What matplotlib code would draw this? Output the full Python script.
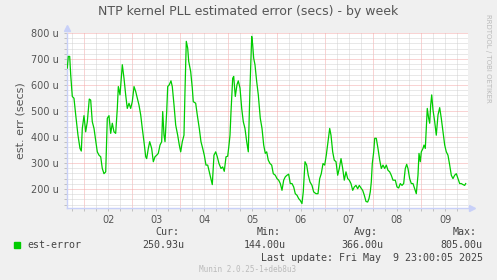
import matplotlib
matplotlib.use("Agg")
import matplotlib.pyplot as plt
from matplotlib.ticker import MultipleLocator, FuncFormatter
from matplotlib.patches import Rectangle

# time in days of May, estimated error in microseconds
days = [1.653, 1.674, 1.703, 1.724, 1.757, 1.792, 1.828, 1.875, 1.917, 1.944,
        1.965, 2.000, 2.035, 2.069, 2.110, 2.139, 2.172, 2.208, 2.276, 2.312,
        2.347, 2.380, 2.415, 2.451, 2.484, 2.519, 2.555, 2.588, 2.623, 2.658,
        2.692, 2.713, 2.748, 2.796, 2.831, 2.866, 2.899, 2.935, 2.970, 3.003,
        3.039, 3.074, 3.107, 3.142, 3.178, 3.211, 3.246, 3.282, 3.302, 3.336,
        3.365, 3.406, 3.440, 3.475, 3.510, 3.543, 3.579, 3.614, 3.635, 3.662,
        3.683, 3.718, 3.739, 3.772, 3.807, 3.834, 3.870, 3.905, 3.946, 3.980,
        4.009, 4.042, 4.077, 4.098, 4.125, 4.154, 4.175, 4.216, 4.250, 4.270,
        4.320, 4.353, 4.395, 4.430, 4.466, 4.499, 4.534, 4.570, 4.603, 4.638,
        4.665, 4.700, 4.736, 4.769, 4.804, 4.846, 4.881, 4.914, 4.950, 4.985,
        5.012, 5.033, 5.054, 5.089, 5.110, 5.143, 5.178, 5.205, 5.241, 5.276,
        5.309, 5.344, 5.380, 5.413, 5.448, 5.484, 5.504, 5.525, 5.552, 5.587,
        5.621, 5.662, 5.698, 5.733, 5.766, 5.795, 5.828, 5.864, 5.899, 5.932,
        5.974, 6.009, 6.044, 6.078, 6.113, 6.148, 6.182, 6.217, 6.252, 6.285,
        6.321, 6.356, 6.389, 6.425, 6.460, 6.493, 6.528, 6.555, 6.591, 6.626,
        6.659, 6.695, 6.736, 6.771, 6.819, 6.861, 6.896, 6.929, 6.965, 7.000,
        7.033, 7.069, 7.104, 7.131, 7.166, 7.199, 7.235, 7.270, 7.303, 7.339,
        7.374, 7.407, 7.442, 7.478, 7.511, 7.546, 7.582, 7.615, 7.650, 7.685,
        7.719, 7.754, 7.789, 7.823, 7.858, 7.893, 7.920, 7.947, 7.968, 7.989,
        8.018, 8.039, 8.072, 8.107, 8.143, 8.176, 8.211, 8.246, 8.280, 8.315,
        8.350, 8.383, 8.419, 8.467, 8.502, 8.537, 8.570, 8.606, 8.641, 8.674,
        8.703, 8.730, 8.765, 8.799, 8.834, 8.869, 8.903, 8.938, 8.959, 8.986,
        9.007, 9.042, 9.063, 9.090, 9.111, 9.131, 9.160, 9.181, 9.202, 9.223,
        9.250, 9.285, 9.318, 9.354, 9.389, 9.422, 9.457, 9.493, 9.526, 9.561,
        9.597, 9.630, 9.665, 9.700, 9.734, 9.769, 9.804, 9.837, 9.873, 9.908,
        9.929]
err_us = [665, 710, 710, 639, 556, 549, 485, 407, 356, 346,
          433, 482, 420, 459, 546, 542, 459, 433, 343, 330,
          324, 279, 259, 266, 472, 482, 414, 453, 420, 414,
          510, 594, 562, 678, 626, 562, 510, 530, 510, 536,
          594, 575, 549, 523, 485, 433, 382, 324, 317, 356,
          382, 356, 305, 324, 330, 337, 369, 382, 498, 407,
          382, 498, 594, 601, 616, 594, 523, 446, 407, 369,
          343, 382, 407, 575, 768, 742, 691, 652, 588, 536,
          530, 485, 433, 382, 356, 330, 292, 292, 266, 240,
          217, 330, 343, 324, 298, 279, 285, 268, 324, 326,
          369, 407, 498, 626, 633, 556, 601, 616, 588, 510,
          459, 433, 382, 343, 588, 787, 755, 703, 678, 614,
          562, 472, 433, 369, 337, 343, 311, 298, 292, 259,
          253, 240, 234, 221, 195, 234, 247, 253, 257, 221,
          221, 208, 182, 176, 163, 156, 144, 189, 305, 292,
          253, 227, 214, 189, 182, 182, 240, 259, 298, 292,
          330, 382, 433, 407, 343, 311, 305, 253, 279, 317,
          279, 234, 266, 240, 234, 221, 195, 208, 214, 201,
          214, 204, 195, 176, 152, 150, 163, 189, 227, 298,
          343, 395, 395, 356, 311, 279, 292, 279, 292, 272,
          266, 253, 234, 234, 208, 204, 221, 214, 221, 279,
          295, 279, 240, 221, 221, 201, 182, 253, 337, 305,
          343, 356, 369, 356, 433, 510, 472, 453, 523, 562,
          504, 459, 407, 485, 513, 472, 420, 369, 343, 330,
          292, 253, 240, 253, 259, 240, 221, 221, 217, 214,
          221]

legend_name = "est-error"
stat_names = ["Cur:", "Min:", "Avg:", "Max:"]
stat_values = ["250.93u", "144.00u", "366.00u", "805.00u"]

W, H = 497, 280
fig = plt.figure(figsize=(W / 100, H / 100), dpi=100, facecolor="#F0F0F0")
ax = fig.add_axes([67 / W, (H - 208) / H, (468 - 67) / W, (208 - 33) / H])
ax.set_facecolor("white")

ax.plot(days, err_us, color="#00CC00", lw=0.9, zorder=3)

ax.set_xlim(1.647, 9.977)
ax.set_ylim(127, 800)

# grid: days in red, 6h in gray
ax.xaxis.set_major_locator(MultipleLocator(1))
ax.xaxis.set_minor_locator(MultipleLocator(0.25))
ax.xaxis.set_major_formatter(FuncFormatter(lambda v, p: ""))
ax.xaxis.set_minor_formatter(FuncFormatter(
    lambda v, p: "%02d" % int(v) if abs(v % 1 - 0.5) < 1e-6 else ""))
ax.yaxis.set_major_locator(MultipleLocator(100))
ax.yaxis.set_minor_locator(MultipleLocator(20))
ax.yaxis.set_major_formatter(FuncFormatter(lambda v, p: "%d u" % v))

dot = (0, (1, 1))
ax.grid(which="major", color="#F4A8A8", lw=0.72, ls=dot, zorder=1)
ax.grid(which="minor", color="#D2D2D2", lw=0.72, ls=dot, zorder=0)

for s in ["top", "right"]:
    ax.spines[s].set_visible(False)
for s in ["left", "bottom"]:
    ax.spines[s].set_color("#C8D0F8")
    ax.spines[s].set_linewidth(1)

ax.tick_params(which="both", length=2, width=0.7, color="#C0C0C0",
               labelcolor="#555555", labelsize=7, pad=3)
ax.tick_params(axis="y", which="major", pad=4)

# axis arrows
ax.plot([0], [1.03], marker="^", ms=4, color="#C8D0F8", transform=ax.transAxes,
        clip_on=False)
ax.plot([1.01], [0], marker=">", ms=4, color="#C8D0F8", transform=ax.transAxes,
        clip_on=False)

ax.set_ylabel("est. err (secs)", fontsize=8, color="#555555", labelpad=4)
fig.text(248 / W, 1 - 12 / H, "NTP kernel PLL estimated error (secs) - by week",
         ha="center", va="center", fontsize=9, color="#555555")
fig.text(488 / W, 1 - 58 / H, "RRDTOOL / TOBI OETIKER", rotation=270,
         ha="center", va="center", fontsize=5, color="#BBBBBB")

mono = "DejaVu Sans Mono"
fig.add_artist(Rectangle((14 / W, (H - 248) / H), 6 / W, 6 / H,
                         transform=fig.transFigure, color="#00CC00"))
fig.text(27 / W, 1 - 245 / H, legend_name, family=mono, fontsize=7.2,
         ha="left", va="center", color="#444444")
stat_x = [163, 265, 362, 461]
for x, name, val in zip(stat_x, stat_names, stat_values):
    fig.text((x + 4) / W, 1 - 232 / H, name, family=mono, fontsize=7.2,
             ha="center", va="center", color="#444444")
    fig.text(x / W, 1 - 245 / H, val, family=mono, fontsize=7.2,
             ha="center", va="center", color="#444444")
fig.text(483 / W, 1 - 258 / H, "Last update: Fri May  9 23:00:05 2025",
         family=mono, fontsize=7.2, ha="right", va="center", color="#444444")
fig.text(248 / W, 1 - 269 / H, "Munin 2.0.25-1+deb8u3", family=mono,
         fontsize=5.5, ha="center", va="center", color="#BBBBBB")

fig.savefig("out.png", dpi=100, facecolor=fig.get_facecolor())
